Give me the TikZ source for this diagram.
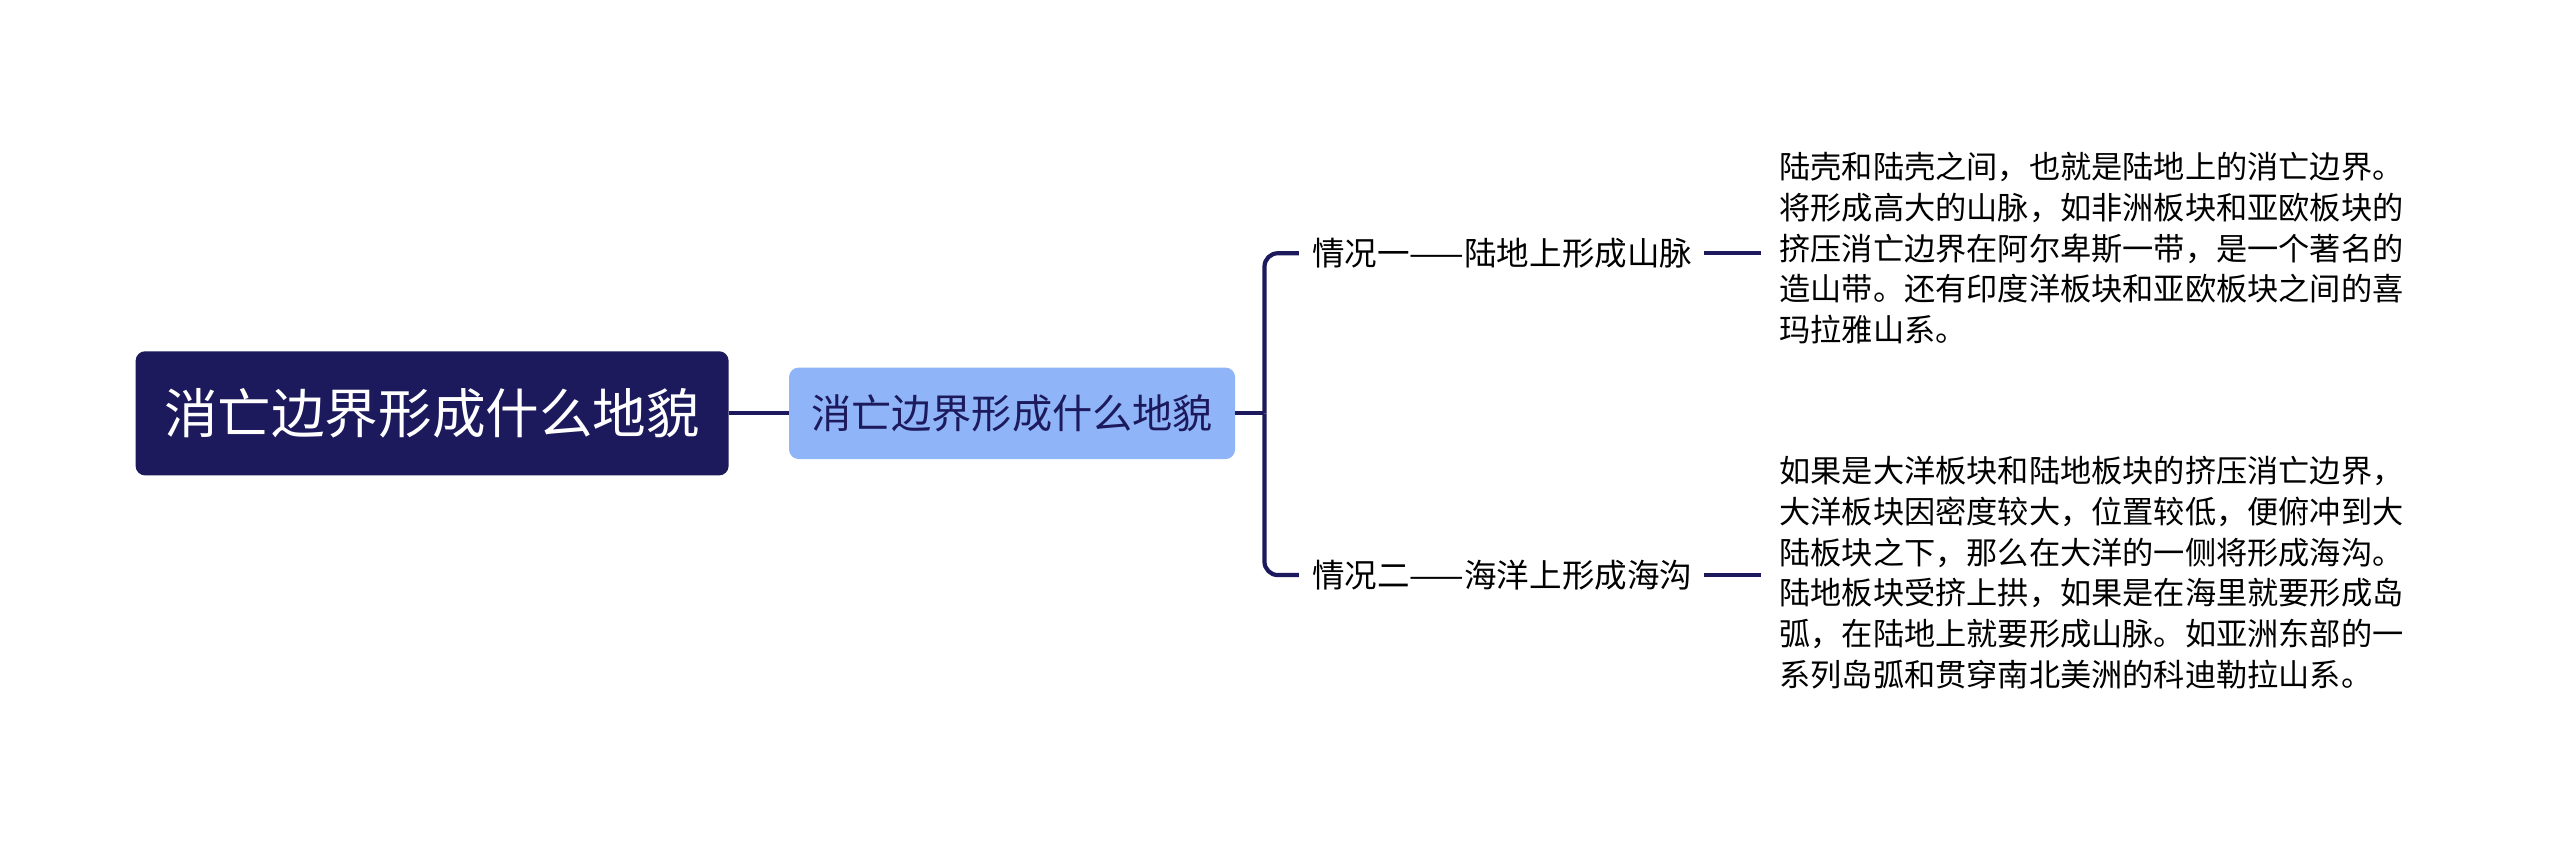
\documentclass[tikz,border=0pt]{standalone}
\usepackage{fontspec}
\setmainfont{Noto Sans CJK SC}
\begin{document}
\begin{tikzpicture}[x=0.03cm,y=-0.03cm,
  conn/.style={draw=navy,line width=2.2pt},
  leaf/.style={anchor=west,font=\fontsize{17pt}{20pt}\selectfont,text=black,inner sep=0pt},
  para/.style={anchor=north west,align=left,font=\fontsize{16.3pt}{21.3pt}\selectfont,inner sep=0pt}]
\definecolor{navy}{HTML}{1C1A5C}
\definecolor{sub}{HTML}{8FB4F7}
\useasboundingbox (0,0) rectangle (1567,518);
\node[fill=navy,rounded corners=5pt,minimum width=363*0.03cm,minimum height=76*0.03cm,text=white,font=\fontsize{28pt}{32pt}\selectfont] (root) at (264.5,253) {消亡边界形成什么地貌};
\node[fill=sub,rounded corners=5pt,minimum width=273*0.03cm,minimum height=56*0.03cm,text=navy,font=\fontsize{21pt}{24pt}\selectfont] (sub) at (619.5,253) {消亡边界形成什么地貌};
\draw[conn] (root.east) -- (sub.west);
\node[leaf] (b1) at (803,155) {情况一——陆地上形成山脉};
\node[leaf] (b2) at (803,352) {情况二——海洋上形成海沟};
\coordinate (j) at (774,253);
\draw[conn] (sub.east) -- (j);
\draw[conn,rounded corners=7pt] (j) |- (795,155);
\draw[conn,rounded corners=7pt] (j) |- (795,352);
\node[para] (t1) at (1089,93) {陆壳和陆壳之间，也就是陆地上的消亡边界。\\将形成高大的山脉，如非洲板块和亚欧板块的\\挤压消亡边界在阿尔卑斯一带，是一个著名的\\造山带。还有印度洋板块和亚欧板块之间的喜\\玛拉雅山系。};
\node[para] (t2) at (1089,279) {如果是大洋板块和陆地板块的挤压消亡边界，\\大洋板块因密度较大，位置较低，便俯冲到大\\陆板块之下，那么在大洋的一侧将形成海沟。\\陆地板块受挤上拱，如果是在海里就要形成岛\\弧，在陆地上就要形成山脉。如亚洲东部的一\\系列岛弧和贯穿南北美洲的科迪勒拉山系。};
\draw[conn] (1043,155) -- (1078,155);
\draw[conn] (1043,352) -- (1078,352);
\end{tikzpicture}
\end{document}
